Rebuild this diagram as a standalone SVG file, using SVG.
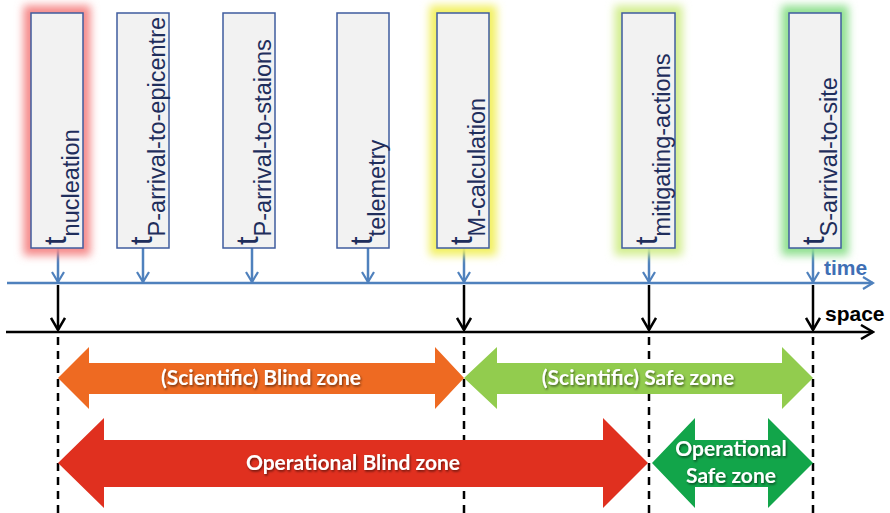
<svg xmlns="http://www.w3.org/2000/svg" width="890" height="513" viewBox="0 0 890 513">
<style>
.box{fill:#F2F2F2;stroke:#3F5C9E;stroke-width:1.5}
.lbl{font-family:"Liberation Sans",Arial,sans-serif;fill:#1F2E5C}
.big{font-size:31px}
.sub{font-size:23.5px}
.blue{stroke:#4F81BD;stroke-width:2.5;fill:none}
.blk{stroke:#000;stroke-width:2.5;fill:none}
.dash{stroke:#000;stroke-width:2.5;stroke-dasharray:8 6;fill:none}
.zone{font-family:Lato,"Open Sans",sans-serif;font-weight:bold;font-size:21px;fill:#fff;text-anchor:middle;filter:url(#sh)}
.axis{font-family:"Liberation Sans",Arial,sans-serif;font-weight:bold;font-size:21px}
.glow{fill:none;stroke-width:15;filter:url(#glow)}
</style>
<defs>
<filter id="glow" x="-60%" y="-20%" width="220%" height="140%"><feGaussianBlur stdDeviation="4"/></filter>
<filter id="sh" x="-10%" y="-30%" width="120%" height="160%"><feDropShadow dx="1" dy="1.5" stdDeviation="1" flood-color="#000" flood-opacity="0.55"/></filter>
<marker id="hb" markerWidth="14" markerHeight="14" refX="12" refY="7" orient="auto" markerUnits="userSpaceOnUse"><path d="M2,1 L12,7 L2,13" fill="none" stroke="#4F81BD" stroke-width="2.2"/></marker>
<marker id="hk" markerWidth="16" markerHeight="16" refX="14" refY="8" orient="auto" markerUnits="userSpaceOnUse"><path d="M2,1 L14,8 L2,15" fill="none" stroke="#000" stroke-width="2.5"/></marker>
</defs>
<rect width="890" height="513" fill="#fff"/>

<g id="connectors">
<line class="blue" x1="7" y1="283" x2="873" y2="283" marker-end="url(#hb)"/>
<line class="blk" x1="6" y1="332" x2="873" y2="332" stroke-width="3" marker-end="url(#hk)"/>
<line class="blue" x1="58" y1="248" x2="58" y2="282" marker-end="url(#hb)"/>
<line class="blue" x1="143" y1="248" x2="143" y2="282" marker-end="url(#hb)"/>
<line class="blue" x1="252" y1="248" x2="252" y2="282" marker-end="url(#hb)"/>
<line class="blue" x1="368" y1="248" x2="368" y2="282" marker-end="url(#hb)"/>
<line class="blue" x1="464" y1="248" x2="464" y2="282" marker-end="url(#hb)"/>
<line class="blue" x1="649" y1="248" x2="649" y2="282" marker-end="url(#hb)"/>
<line class="blue" x1="813" y1="248" x2="813" y2="282" marker-end="url(#hb)"/>
<line class="blk" x1="58" y1="285" x2="58" y2="330" marker-end="url(#hk)"/>
<line class="blk" x1="464" y1="285" x2="464" y2="330" marker-end="url(#hk)"/>
<line class="blk" x1="649" y1="285" x2="649" y2="330" marker-end="url(#hk)"/>
<line class="blk" x1="813" y1="285" x2="813" y2="330" marker-end="url(#hk)"/>
<line class="dash" x1="58" y1="337" x2="58" y2="513"/>
<line class="dash" x1="464" y1="337" x2="464" y2="513"/>
<line class="dash" x1="649" y1="337" x2="649" y2="513"/>
<line class="dash" x1="813" y1="337" x2="813" y2="513"/>
<text class="axis" x="824" y="275" fill="#3F6FB5">time</text>
<text class="axis" x="825" y="321" fill="#000">space</text>
</g>

<g id="t-nucleation">
<rect class="glow" x="31" y="13" width="52" height="235" stroke="#F58A8A"/>
<rect class="box" x="31" y="13" width="52" height="235"/>
<text class="lbl" transform="translate(66,245) rotate(-90)"><tspan class="big">t</tspan><tspan class="sub" dy="13">nucleation</tspan></text>
</g>
<g id="t-p-arrival-to-epicentre">
<rect class="box" x="117" y="13" width="52" height="235"/>
<text class="lbl" transform="translate(152,245) rotate(-90)"><tspan class="big">t</tspan><tspan class="sub" dy="13">P-arrival-to-epicentre</tspan></text>
</g>
<g id="t-p-arrival-to-staions">
<rect class="box" x="223" y="13" width="52" height="235"/>
<text class="lbl" transform="translate(258,245) rotate(-90)"><tspan class="big">t</tspan><tspan class="sub" dy="13">P-arrival-to-staions</tspan></text>
</g>
<g id="t-telemetry">
<rect class="box" x="337" y="13" width="52" height="235"/>
<text class="lbl" transform="translate(372,245) rotate(-90)"><tspan class="big">t</tspan><tspan class="sub" dy="13">telemetry</tspan></text>
</g>
<g id="t-m-calculation">
<rect class="glow" x="437" y="13" width="52" height="235" stroke="#F2F060"/>
<rect class="box" x="437" y="13" width="52" height="235"/>
<text class="lbl" transform="translate(472,245) rotate(-90)"><tspan class="big">t</tspan><tspan class="sub" dy="13">M-calculation</tspan></text>
</g>
<g id="t-mitigating-actions">
<rect class="glow" x="622" y="13" width="53" height="235" stroke="#D3EE90"/>
<rect class="box" x="622" y="13" width="53" height="235"/>
<text class="lbl" transform="translate(657,245) rotate(-90)"><tspan class="big">t</tspan><tspan class="sub" dy="13">mitigating-actions</tspan></text>
</g>
<g id="t-s-arrival-to-site">
<rect class="glow" x="789" y="13" width="52" height="235" stroke="#90E090"/>
<rect class="box" x="789" y="13" width="52" height="235"/>
<text class="lbl" transform="translate(824,245) rotate(-90)"><tspan class="big">t</tspan><tspan class="sub" dy="13">S-arrival-to-site</tspan></text>
</g>

<g id="scientific-blind-zone">
<polygon points="58,378 89,347 89,363 435,363 435,347 464,378 435,409 435,394 89,394 89,409" fill="#EE6A22"/>
<text class="zone" x="261" y="385">(Scientific) Blind zone</text>
</g>
<g id="scientific-safe-zone">
<polygon points="464,378 497,347 497,363 782,363 782,347 813,378 782,409 782,394 497,394 497,409" fill="#92CC4E"/>
<text class="zone" x="638" y="385">(Scientific) Safe zone</text>
</g>
<g id="operational-blind-zone">
<polygon points="58,463 104,418 104,440 603,440 603,418 648,463 603,508 603,487 104,487 104,508" fill="#E0301F"/>
<text class="zone" x="353" y="470">Operational Blind zone</text>
</g>
<g id="operational-safe-zone">
<polygon points="652,463 695,418 695,440 768,440 768,418 813,463 768,508 768,487 695,487 695,508" fill="#12A54A"/>
<text class="zone" x="731" y="456">Operational</text>
<text class="zone" x="731" y="483">Safe zone</text>
</g>
</svg>
